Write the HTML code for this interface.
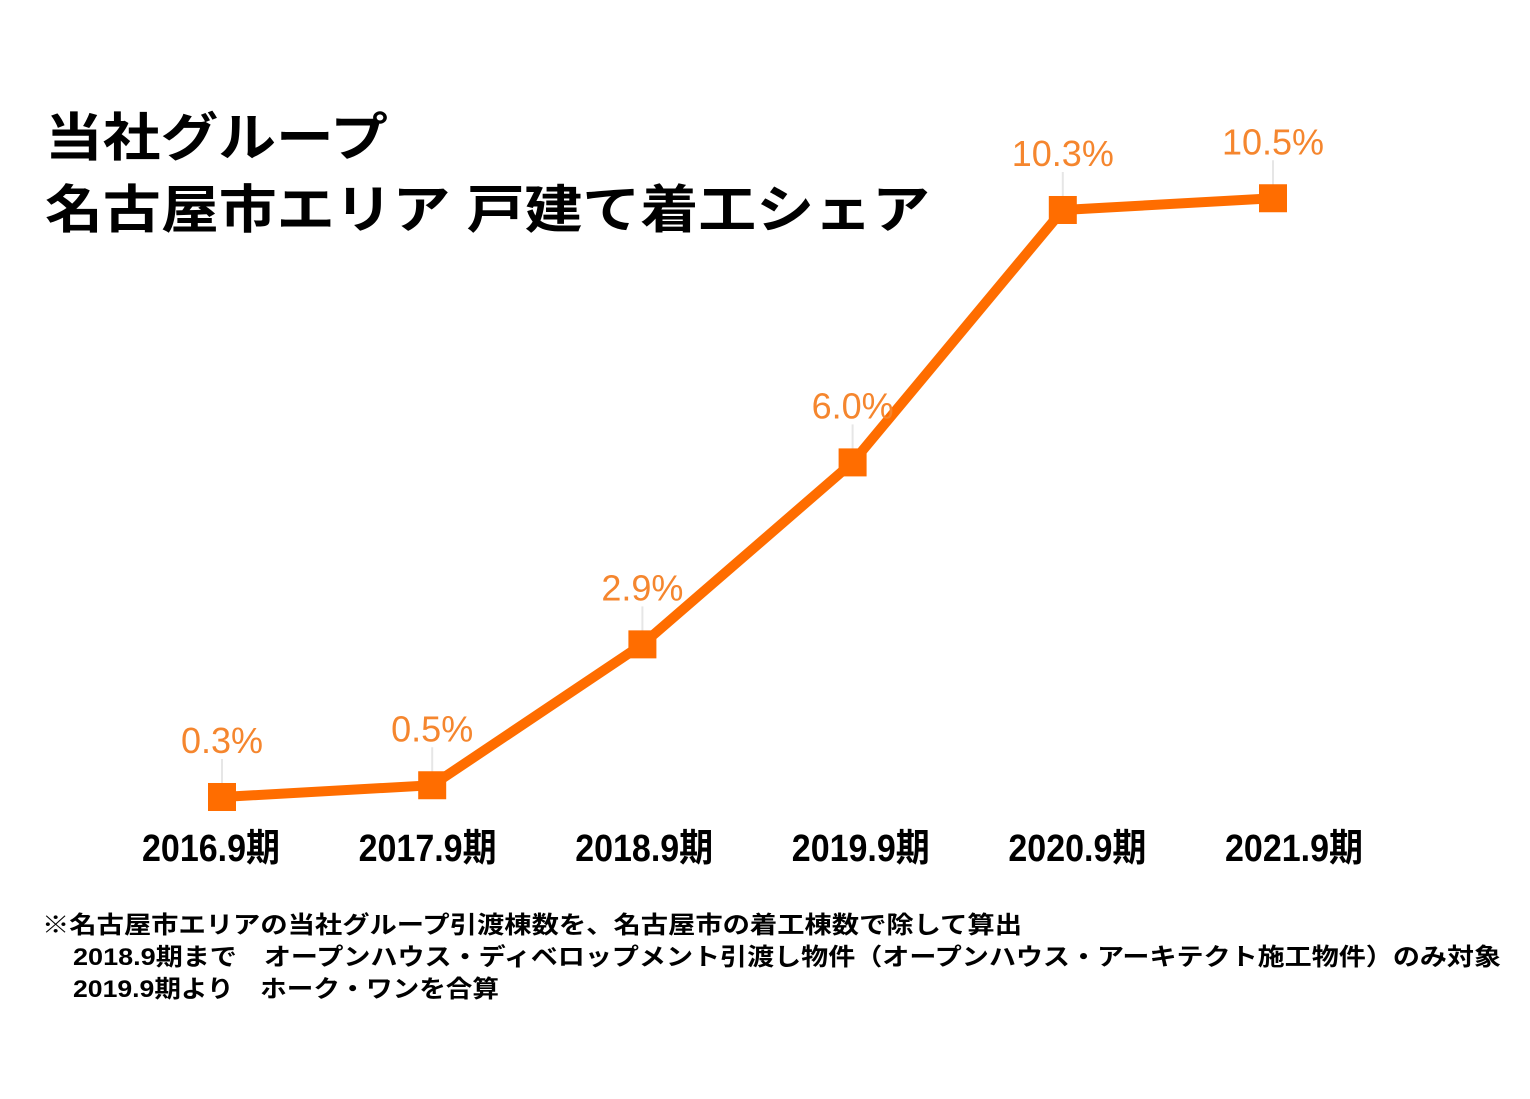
<!DOCTYPE html>
<html><head><meta charset="utf-8"><style>
html,body{margin:0;padding:0;background:#fff;}
svg{display:block;}
</style></head><body>
<svg id="chart" width="1530" height="1099" viewBox="0 0 1530 1099" xmlns="http://www.w3.org/2000/svg">
<g font-family="'Liberation Sans','Noto Sans CJK JP',sans-serif" font-weight="bold" fill="#000" font-size="52">
<text x="45" y="156" textLength="343" lengthAdjust="spacingAndGlyphs">当社グループ</text>
<text x="45" y="228" textLength="885" lengthAdjust="spacingAndGlyphs">名古屋市エリア 戸建て着工シェア</text>
</g>
<g id="plot"></g>
<g font-family="'Liberation Sans Narrow','Liberation Sans','Noto Sans CJK JP',sans-serif" font-weight="bold" fill="#000" font-size="24">
<text x="42" y="933" textLength="980" lengthAdjust="spacingAndGlyphs">※名古屋市エリアの当社グループ引渡棟数を、名古屋市の着工棟数で除して算出</text>
<text x="73" y="965" textLength="1428" lengthAdjust="spacingAndGlyphs">2018.9期まで　オープンハウス・ディベロップメント引渡し物件（オープンハウス・アーキテクト施工物件）のみ対象</text>
<text x="73" y="997" textLength="426" lengthAdjust="spacingAndGlyphs">2019.9期より　ホーク・ワンを合算</text>
</g>
</svg>
<script>
const categories = ["2016.9期","2017.9期","2018.9期","2019.9期","2020.9期","2021.9期"];
const shareValues = [0.3, 0.5, 2.9, 6.0, 10.3, 10.5];
const valueLabels = ["0.3%","0.5%","2.9%","6.0%","10.3%","10.5%"];

const NS = "http://www.w3.org/2000/svg";
const g = document.getElementById("plot");
function xPos(i){ return 222 + i * 210.2; }
function labelX(i){ return 211 + i * 216.6; }
function yPos(v){ return 814.6 - v * 58.7; }
function mk(tag, attrs){ const e=document.createElementNS(NS,tag); for(const k in attrs) e.setAttribute(k, attrs[k]); g.appendChild(e); return e; }

shareValues.forEach((v,i)=>{
  const l = mk("line",{x1:xPos(i),x2:xPos(i),y1:yPos(v)-38,y2:yPos(v)-12,stroke:"#e6e6e6","stroke-width":2});
  
  
});
const pts = shareValues.map((v,i)=>xPos(i)+","+yPos(v)).join(" ");
const pl = mk("polyline",{points:pts,fill:"none",stroke:"#ff6d00","stroke-width":10,"stroke-linejoin":"miter"});


shareValues.forEach((v,i)=>{
  const r = mk("rect",{x:xPos(i)-14,y:yPos(v)-14,width:28,height:28,fill:"#ff6d00"});
  
  
  const t = mk("text",{x:xPos(i),y:yPos(v)-44,"text-anchor":"middle","font-family":"'Liberation Sans',sans-serif","font-size":36,fill:"#f5862e"});
  t.textContent = valueLabels[i];
  
  
});
categories.forEach((c,i)=>{
  const t = mk("text",{x:labelX(i),y:861,"text-anchor":"middle","font-family":"'Liberation Sans Narrow','Liberation Sans','Noto Sans CJK JP',sans-serif","font-weight":"bold","font-size":38,fill:"#000",textLength:138,lengthAdjust:"spacingAndGlyphs"});
  t.textContent = c;
  
  
});
</script>
</body></html>
